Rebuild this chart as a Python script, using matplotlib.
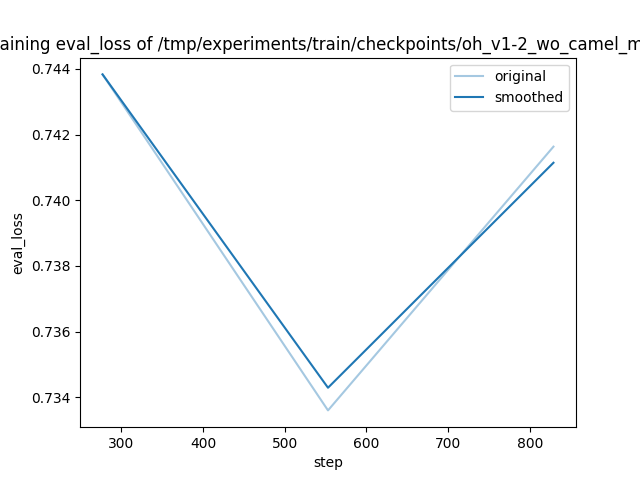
import matplotlib
matplotlib.use('Agg')
import matplotlib.pyplot as plt

steps = [277, 553, 829]
original = [0.74383, 0.73360, 0.74163]
smoothed = [0.74383, 0.73429, 0.74114]
title = 'Training eval_loss of /tmp/experiments/train/checkpoints/oh_v1-2_wo_camel_math'

plt.figure(figsize=(6.4, 4.8), dpi=100)
plt.plot(steps, original, color='C0', alpha=0.4, label='original')
plt.plot(steps, smoothed, color='C0', label='smoothed')
plt.legend()
plt.xlabel('step')
plt.ylabel('eval_loss')
plt.title(title)
plt.savefig('out.png')
